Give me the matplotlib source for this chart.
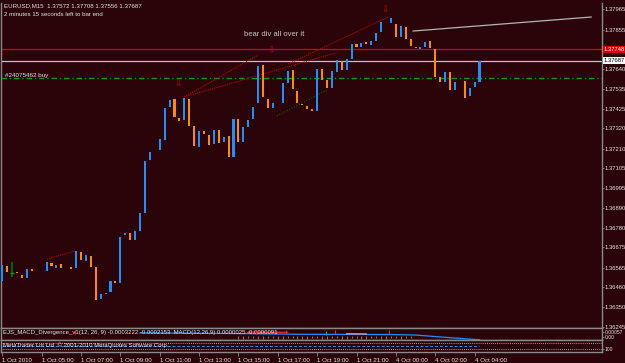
import matplotlib
matplotlib.use('Agg')
import matplotlib.pyplot as plt

# EURUSD M15 bars, 1 Oct 2010 03:00 .. 4 Oct 04:15
opens = [1.36492, 1.36573, 1.36535, 1.36541, 1.36525, 1.36508, 1.36557, 1.36552, 1.36573, 1.36546,
         1.36590, 1.36562, 1.36584, 1.36568, 1.36568, 1.36562, 1.36649, 1.36600, 1.36628, 1.36568,
         1.36394, 1.36422, 1.36432, 1.36492, 1.36481, 1.36741, 1.36752, 1.36714, 1.36763, 1.36861,
         1.37148, 1.37197, 1.37202, 1.37256, 1.37435, 1.37478, 1.37375, 1.37365, 1.37478, 1.37332,
         1.37218, 1.37305, 1.37283, 1.37235, 1.37310, 1.37245, 1.37278, 1.37164, 1.37370, 1.37245,
         1.37327, 1.37370, 1.37457, 1.37663, 1.37478, 1.37430, 1.37457, 1.37457, 1.37565, 1.37636,
         1.37522, 1.37451, 1.37441, 1.37424, 1.37413, 1.37641, 1.37581, 1.37538, 1.37625, 1.37684,
         1.37636, 1.37695, 1.37777, 1.37760, 1.37787, 1.37771, 1.37793, 1.37842, 1.37901, 1.37890,
         1.37885, 1.37815, 1.37869, 1.37804, 1.37760, 1.37749, 1.37760, 1.37793, 1.37749, 1.37598,
         1.37571, 1.37625, 1.37527, 1.37554, 1.37576, 1.37495, 1.37544, 1.37572]
closes = [1.36579, 1.36541, 1.36535, 1.36535, 1.36508, 1.36557, 1.36546, 1.36552, 1.36573, 1.36595,
          1.36573, 1.36579, 1.36562, 1.36568, 1.36557, 1.36655, 1.36606, 1.36633, 1.36568, 1.36389,
          1.36422, 1.36427, 1.36492, 1.36481, 1.36731, 1.36752, 1.36714, 1.36763, 1.36861, 1.37142,
          1.37191, 1.37197, 1.37262, 1.37430, 1.37473, 1.37381, 1.37359, 1.37484, 1.37332, 1.37224,
          1.37305, 1.37289, 1.37229, 1.37310, 1.37240, 1.37272, 1.37164, 1.37370, 1.37245, 1.37327,
          1.37365, 1.37435, 1.37657, 1.37489, 1.37430, 1.37457, 1.37457, 1.37565, 1.37630, 1.37533,
          1.37457, 1.37446, 1.37424, 1.37413, 1.37641, 1.37581, 1.37538, 1.37630, 1.37690, 1.37636,
          1.37695, 1.37777, 1.37760, 1.37782, 1.37777, 1.37793, 1.37836, 1.37896, 1.37901, 1.37917,
          1.37815, 1.37874, 1.37804, 1.37766, 1.37755, 1.37760, 1.37787, 1.37755, 1.37598, 1.37571,
          1.37625, 1.37527, 1.37571, 1.37554, 1.37484, 1.37538, 1.37571, 1.37687]

time_ticks = [0, 8, 16, 24, 32, 40, 48, 56, 64, 72, 80, 88, 96]
time_labels = ['1 Oct 2010', '1 Oct 05:00', '1 Oct 07:00', '1 Oct 09:00', '1 Oct 11:00',
               '1 Oct 13:00', '1 Oct 15:00', '1 Oct 17:00', '1 Oct 19:00', '1 Oct 21:00',
               '4 Oct 00:00', '4 Oct 02:00', '4 Oct 04:00']
price_ticks = [1.37965, 1.37855, 1.37640, 1.37535, 1.37425, 1.37320, 1.37210, 1.37105,
               1.36995, 1.36890, 1.36780, 1.36675, 1.36565, 1.36460, 1.36350, 1.36245]

level_red = 1.37748
bid = 1.37687
order_buy = 1.37590

# trend lines: (bar, price) pairs
red_lines = [((37, 1.37489), (52, 1.37717)),
             ((37, 1.37489), (67.6, 1.37728)),
             ((58.1, 1.37668), (78.4, 1.37923)),
             ((9.1, 1.36611), (14.8, 1.36655))]
green_line = ((55.8, 1.37386), (66.0, 1.37527))
silver_line = ((83.5, 1.37847), (119.7, 1.37923))
arrows_bar = [35.7, 54.6, 77.8]
arrows_price = [1.37560, 1.37739, 1.37961]

# MACD sub window
macd_bars = [28, 40, 50, 60, 70, 80, 84, 90, 97]
macd_vals = [0.00050, 0.00045, 0.00040, 0.00032, 0.00030, 0.00028, 0.00022, -0.00008, -0.00040]
hist_bars = list(range(48, 84))
hist_vals = [-0.00025, -0.00025, -0.00020, -0.00020, -0.00025, -0.00025, -0.00020, -0.00020, -0.00025,
             -0.00025, -0.00020, -0.00020, -0.00025, -0.00025, -0.00025, -0.00020, -0.00020, -0.00025,
             -0.00025, -0.00020, -0.00020, -0.00025, -0.00025, -0.00020, -0.00020, -0.00025, -0.00025,
             -0.00020, -0.00020, -0.00025, -0.00025, -0.00020, -0.00020, -0.00025, -0.00020, -0.00020]
sig_marks = [14.8, 51.6, 57.7, 67.6, 78.6]

W, H = 625, 363
BG = '#2a0408'
FG = '#e4e4e4'
GRID = '#8a8a8a'
UP = '#1e90ff'
DN = '#ff8c00'
FS = 4.2

plt.rcParams['font.family'] = 'Liberation Sans'

fig = plt.figure(figsize=(W / 100, H / 100), dpi=100)
fig.patch.set_facecolor(BG)


def box(x0, y0, x1, y1):
    return [x0 / W, 1 - y1 / H, (x1 - x0) / W, (y1 - y0) / H]


def px(x, y):
    return x / W, 1 - y / H


ax = fig.add_axes(box(1, 3, 602, 328))
ax1 = fig.add_axes(box(1, 328, 602, 340), sharex=ax)
ax2 = fig.add_axes(box(1, 340, 602, 352), sharex=ax)

for a in (ax, ax1, ax2):
    a.set_facecolor(BG)
    for s in a.spines.values():
        s.set_color(GRID)
        s.set_linewidth(1.0)
    a.tick_params(colors=GRID, labelcolor=FG, labelsize=FS, length=1.5, width=0.6, pad=0.6)
    a.yaxis.tick_right()
ax.spines['top'].set_visible(False)

# candles (bodies only, wicks are drawn in background colour on this chart)
idx = list(range(len(opens)))
heights = [c - o for o, c in zip(opens, closes)]
colors = [UP if c >= o else DN for o, c in zip(opens, closes)]
ax.bar(idx, heights, bottom=opens, width=0.42, color=colors, linewidth=0, zorder=3)

ax.set_xlim(-0.26, 121.9)
ax.set_ylim(1.36237, 1.37999)
ax.set_yticks(price_ticks)
ax.set_yticklabels([f'{p:.5f}' for p in price_ticks])
ax.tick_params(axis='x', length=0, labelbottom=False)

# horizontal levels
ax.axhline(level_red, color='#e00000', lw=0.9, zorder=2)
ax.axhline(bid, color='#b8c4cc', lw=0.9, zorder=2)
ax.axhline(order_buy, color='#00a000', lw=1.0, dashes=(4, 2, 1, 2), zorder=2)
ax.text(0.6, order_buy, '#24075462 buy', color=FG, fontsize=4.5,
        va='bottom', ha='left', zorder=4)

# drawn objects
for (b0, p0), (b1, p1) in red_lines:
    ax.plot([b0, b1], [p0, p1], color='#c00000', lw=0.8, ls=(0, (1, 1)), zorder=2)
ax.plot([green_line[0][0], green_line[1][0]], [green_line[0][1], green_line[1][1]],
        color='#006400', lw=0.8, ls=(0, (1, 1.5)), zorder=2)
ax.plot([silver_line[0][0], silver_line[1][0]], [silver_line[0][1], silver_line[1][1]],
        color='#b4b4b4', lw=0.9, zorder=2)
for b, p in zip(arrows_bar, arrows_price):
    ax.text(b, p, '\u21e9', color='#d00000', fontsize=6.5, family='DejaVu Sans',
            ha='center', va='center', zorder=5)
ax.vlines(2, 1.36514, 1.36595, color='#006400', lw=1.5, zorder=3)
ax.hlines(1.36535, 1.6, 2.4, color='#00a000', lw=1.0, zorder=3)
ax.text(49.2, 1.37829, 'bear div all over it', color='#c8c8c8', fontsize=5.5,
        ha='left', va='center', zorder=4)

# red and white price boxes on the scale
ax.text(1.003, level_red, '1.37748', transform=ax.get_yaxis_transform(), fontsize=FS,
        color='#ffffff', va='center', ha='left',
        bbox=dict(boxstyle='square,pad=0.15', fc='#e00000', ec='none'), clip_on=False)
ax.text(1.003, bid, '1.37687', transform=ax.get_yaxis_transform(), fontsize=FS,
        color='#000000', va='center', ha='left',
        bbox=dict(boxstyle='square,pad=0.15', fc='#ffffff', ec='none'), clip_on=False)

# MACD window
ax1.set_ylim(-0.00043, 0.00114)
ax1.vlines(hist_bars, 0.0001, hist_vals, color='#d0d0d0', lw=0.4, zorder=2)
ax1.plot(macd_bars, macd_vals, color=UP, lw=0.9, zorder=3)
ax1.plot([50, 58], [0.00060, 0.00058], color='#e03030', lw=0.9, zorder=3)
ax1.plot([70, 74], [0.00038, 0.00036], color='#ff9090', lw=0.9, zorder=3)
ax1.plot(sig_marks, [0.00060] * len(sig_marks), ls='none', marker='|', ms=3,
         mew=0.8, color='#ff2020', zorder=4)
ax1.plot([65.8], [0.00050], ls='none', marker='|', ms=3, mew=0.8, color='#20c020', zorder=4)
ax1.set_yticks([0.00057, 0.0])
ax1.set_yticklabels(['0.00057', '0.00'])
ax1.tick_params(axis='y', labelsize=3.6)
ax1.tick_params(axis='x', length=0, labelbottom=False)
ax1.text(0.003, 0.62, 'EJS_MACD_Divergence_v1(12, 26, 9) -0.0003222 -0.0002153  MACD(12,26,9) 0.0000025 -0.0000091',
         transform=ax1.transAxes, color=FG, fontsize=4.3, va='center', ha='left')

# last window
ax2.set_ylim(-20, 120)
ax2.axhline(80, color='#d0d0d0', lw=0.6, ls=(0, (1, 1.5)))
ax2.axhline(20, color='#d0d0d0', lw=0.6, ls=(0, (1, 1.5)))
ax2.plot([0, 97], [50, 50], color=UP, lw=0.7, ls=(0, (3, 2)))
ax2.set_yticks([20])
ax2.set_yticklabels(['100'])
ax2.tick_params(axis='y', labelsize=3.6)
ax2.text(0.003, 0.55, 'MetaTrader Lot Ltd. \u00a9 2001-2010 MetaQuotes Software Corp.',
         transform=ax2.transAxes, color=FG, fontsize=4.3, va='center', ha='left')

ax2.set_xticks(time_ticks)
ax2.set_xticklabels(time_labels)
ax2.tick_params(axis='x', direction='out', length=3, pad=1.5, labelsize=4.4)
for lab in ax2.get_xticklabels():
    lab.set_ha('left')

# header
fig.text(*px(4, 6), 'EURUSD,M15  1.37572 1.37708 1.37556 1.37687', color=FG,
         fontsize=4.4, va='center', ha='left')
fig.text(*px(4, 14.5), '2 minutes 15 seconds left to bar end', color=FG,
         fontsize=4.4, va='center', ha='left')

fig.savefig('out.png', dpi=100, facecolor=BG)
